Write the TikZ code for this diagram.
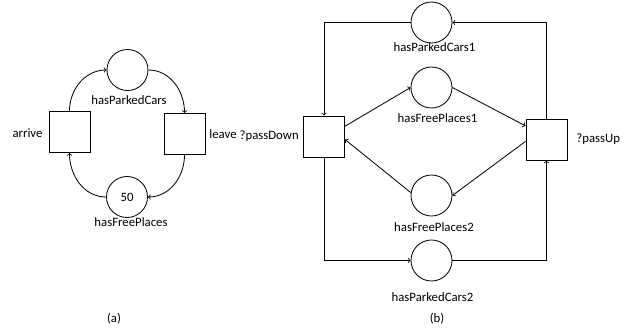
\documentclass[tikz,border=0pt]{standalone}
\usepackage{fontspec}
\setmainfont{Carlito}
\tikzset{
    placenode/.style={draw, circle, minimum size=35, inner sep=0pt},
    transnode/.style={draw, rectangle, minimum size=35, inner sep=0pt},
    lbl/.style={font=\fontsize{10.9}{13}\selectfont},
}
\begin{document}
\begin{tikzpicture}[x=0.03cm, y=0.03cm, line width=0.7pt, >=to]
    \useasboundingbox (0,0) rectangle (626,328);

    % (a)
    \node[placenode, lbl] (pc) at (127.5, 258) {};
    \node[placenode, lbl] (fp) at (127, 131) {50};
    \node[transnode] (arrive) at (69.5, 196) {};
    \node[transnode] (leave) at (184.5, 194) {};

    \node[lbl] (pclbl) at (129, 228) {hasParkedCars};
    \node[lbl] (fplbl) at (131, 106) {hasFreePlaces};
    \node[lbl] (arrivelbl) at (27.5, 195) {arrive};
    \node[lbl] (leavelbl) at (223, 194) {leave};
    \node[lbl] (capa) at (114, 9) {(a)};

    \draw[->] (arrive.north) to[out=90, in=180] (pc.west);
    \draw[->] (pc.east) to[out=0, in=90] (leave.north);
    \draw[->] (leave.south) to[out=-90, in=0] (fp.east);
    \draw[->] (fp.west) to[out=180, in=-90] (arrive.south);

    % (b)
    \node[placenode] (pc1) at (431.5, 305.5) {};
    \node[placenode] (fp1) at (431.5, 240.5) {};
    \node[placenode] (fp2) at (431.5, 132.5) {};
    \node[placenode] (pc2) at (431.5, 67.5) {};
    \node[transnode] (pd) at (324, 191.5) {};
    \node[transnode] (pu) at (546.5, 188.5) {};

    \node[lbl] (pc1lbl) at (434.5, 281) {hasParkedCars1};
    \node[lbl] (fp1lbl) at (437.5, 210) {hasFreePlaces1};
    \node[lbl] (fp2lbl) at (434, 101) {hasFreePlaces2};
    \node[lbl] (pc2lbl) at (432.5, 31) {hasParkedCars2};
    \node[lbl, anchor=east] (pdlbl) at (pd.west) {?passDown};
    \node[lbl, anchor=west] (pulbl) at ([xshift=4]pu.east) {?passUp};
    \node[lbl] (capb) at (437, 9) {(b)};

    \draw[->] (pu.north) |- (pc1.east);
    \draw[->] (pc1.west) -| (pd.north);
    \draw[->] (pd.26) -- (fp1.west);
    \draw[->] (fp1.east) -- (pu.147);
    \draw[->] (pu.185) -- (fp2.east);
    \draw[->] (fp2.172) -- (pd.-8);
    \draw[->] (pd.south) |- (pc2.west);
    \draw[->] (pc2.east) -| (pu.south);

\end{tikzpicture}
\end{document}
